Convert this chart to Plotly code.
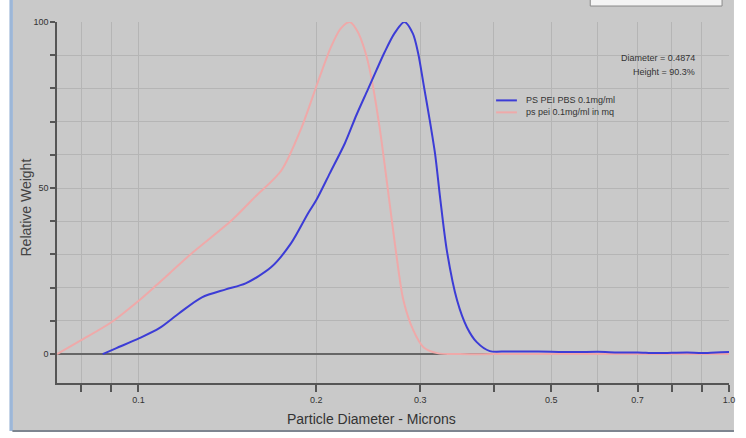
import plotly.graph_objects as go

# Particle size distributions (relative weight, %) vs diameter (microns)
pbs_diam = [0.0870, 0.0918, 0.1004, 0.1085, 0.1172, 0.1281, 0.1406, 0.1519, 0.1679,
            0.1814, 0.1938, 0.2000, 0.2110, 0.2237, 0.2340, 0.2444, 0.2530, 0.2610,
            0.2712, 0.2821, 0.2916, 0.2977, 0.3046, 0.3110, 0.3181, 0.3243, 0.3330,
            0.3464, 0.3599, 0.3740, 0.3936, 0.42, 0.45, 0.50, 0.55, 0.60, 0.65, 0.70,
            0.75, 0.80, 0.85, 0.90, 0.95, 1.0]
pbs_weight = [0, 1.8, 4.8, 7.8, 12.3, 17.1, 19.5, 21.3, 26.2,
              33.4, 42.4, 46.3, 54.5, 63.5, 72.0, 79.5, 85.5, 90.8,
              96.5, 100, 96.5, 90.5, 80.3, 71.0, 60.0, 47.0, 31.0,
              16.2, 8.1, 3.6, 0.9, 0.8, 0.8, 0.7, 0.6, 0.7, 0.5, 0.5,
              0.3, 0.4, 0.5, 0.3, 0.5, 0.6]

mq_diam = [0.0728, 0.080, 0.090, 0.100, 0.1072, 0.1232, 0.1439, 0.1579, 0.1746,
           0.1887, 0.2014, 0.2119, 0.2200, 0.2280, 0.2353, 0.2418, 0.2472, 0.2561,
           0.2642, 0.2724, 0.2810, 0.2920, 0.3038, 0.3206, 0.35, 0.40, 0.50, 0.70, 1.0]
mq_weight = [0, 4.2, 9.6, 16.0, 20.7, 30.4, 40.3, 47.5, 55.3,
             68.0, 82.0, 92.5, 98.0, 100, 97.0, 91.4, 84.5, 68.3,
             50.2, 32.0, 16.2, 7.2, 2.1, 0.3, 0, 0, 0, 0, 0]

series_names = ["PS PEI PBS 0.1mg/ml", "ps pei 0.1mg/ml in mq"]
series_colors = ["#3c3cd6", "#efa9a9"]

x_ticks = [0.08, 0.09, 0.1, 0.2, 0.3, 0.4, 0.5, 0.6, 0.7, 0.8, 0.9, 1.0]
x_labels = ["", "", "0.1", "0.2", "0.3", "", "0.5", "", "0.7", "", "", "1.0"]
y_ticks = [0, 10, 20, 30, 40, 50, 60, 70, 80, 90, 100]
y_labels = ["0", "", "", "", "", "50", "", "", "", "", "100"]

info_lines = ["Diameter = 0.4874", "Height = 90.3%"]

W, H = 746, 438
L, R, T, B = 57, 11, 21.5, 55
PW, PH = W - L - R, H - T - B


def px_x(p):
    return (p - L) / PW


def px_y(p):
    return (H - B - p) / PH


FONT = "Liberation Sans, Arial, sans-serif"
BG = "#c9c9c9"

fig = go.Figure()
fig.add_trace(go.Scatter(x=mq_diam, y=mq_weight, mode="lines", name=series_names[1],
                         showlegend=False,
                         line=dict(color=series_colors[1], width=2, shape="spline", smoothing=0.8)))
fig.add_trace(go.Scatter(x=pbs_diam, y=pbs_weight, mode="lines", name=series_names[0],
                         showlegend=False,
                         line=dict(color=series_colors[0], width=2, shape="spline", smoothing=0.8)))

shapes = [
    # window panel
    dict(type="rect", xref="paper", yref="paper", x0=px_x(12), x1=px_x(740),
         y0=px_y(431), y1=px_y(-5), fillcolor=BG, line=dict(width=0), layer="below"),
    dict(type="rect", xref="paper", yref="paper", x0=px_x(9), x1=px_x(12.5),
         y0=px_y(431), y1=px_y(-5), fillcolor="#9db7d8", line=dict(width=0), layer="below"),
    dict(type="line", xref="paper", yref="paper", x0=px_x(12), x1=px_x(740),
         y0=px_y(431), y1=px_y(431), line=dict(color="#7d8590", width=2), layer="below"),
    # small white box top right
    dict(type="rect", xref="paper", yref="paper", x0=px_x(595), x1=px_x(728),
         y0=px_y(5.5), y1=px_y(-5), fillcolor="#f4f4f4", line=dict(color="#8a8a8a", width=1)),
]

annotations = [
    dict(text=info_lines[0], xref="paper", yref="paper", x=px_x(703), y=px_y(58),
         xanchor="right", yanchor="middle", showarrow=False,
         font=dict(family=FONT, size=9, color="#333333")),
    dict(text=info_lines[1], xref="paper", yref="paper", x=px_x(703), y=px_y(72),
         xanchor="right", yanchor="middle", showarrow=False,
         font=dict(family=FONT, size=9, color="#333333")),
    dict(text="Relative Weight", xref="paper", yref="paper", x=px_x(26), y=px_y(207),
         xanchor="center", yanchor="middle", textangle=-90, showarrow=False,
         font=dict(family=FONT, size=14, color="#444444")),
    dict(text="Particle Diameter - Microns", xref="paper", yref="paper", x=px_x(374),
         y=px_y(419), xanchor="center", yanchor="middle", showarrow=False,
         font=dict(family=FONT, size=14, color="#333333")),
]

# compact legend: short line sample followed by the series name
legend_rows = [100, 112]
for name, color, row in zip(series_names, series_colors, legend_rows):
    shapes.append(dict(type="line", xref="paper", yref="paper", x0=px_x(500), x1=px_x(521),
                       y0=px_y(row), y1=px_y(row), line=dict(color=color, width=2)))
    annotations.append(dict(text=name, xref="paper", yref="paper", x=px_x(528), y=px_y(row - 0.5),
                            xanchor="left", yanchor="middle", showarrow=False,
                            font=dict(family=FONT, size=9, color="#333333")))

fig.update_layout(
    width=W, height=H,
    margin=dict(l=L, r=R, t=T, b=B, pad=0),
    paper_bgcolor="white", plot_bgcolor=BG,
    font=dict(family=FONT, size=9, color="#333333"),
    shapes=shapes, annotations=annotations,
    showlegend=False,
)

fig.update_xaxes(
    type="log", range=[-1.1378, 0.0], tickmode="array", tickvals=x_ticks, ticktext=x_labels,
    ticks="outside", ticklen=7, tickwidth=1.5, tickcolor="#555555",
    showline=True, linecolor="#555555", linewidth=1.5,
    showgrid=True, gridcolor="#b5b5b5", gridwidth=1, zeroline=False,
    tickfont=dict(family=FONT, size=9, color="#333333"),
)
fig.update_yaxes(
    range=[-8.7, 100], tickmode="array", tickvals=y_ticks, ticktext=y_labels,
    ticks="outside", ticklen=5, tickwidth=1.5, tickcolor="#555555",
    showline=True, linecolor="#555555", linewidth=1.5,
    showgrid=True, gridcolor="#b5b5b5", gridwidth=1,
    zeroline=True, zerolinecolor="#666666", zerolinewidth=1.5,
    tickfont=dict(family=FONT, size=9, color="#333333"),
)

fig.write_html("out.html")
